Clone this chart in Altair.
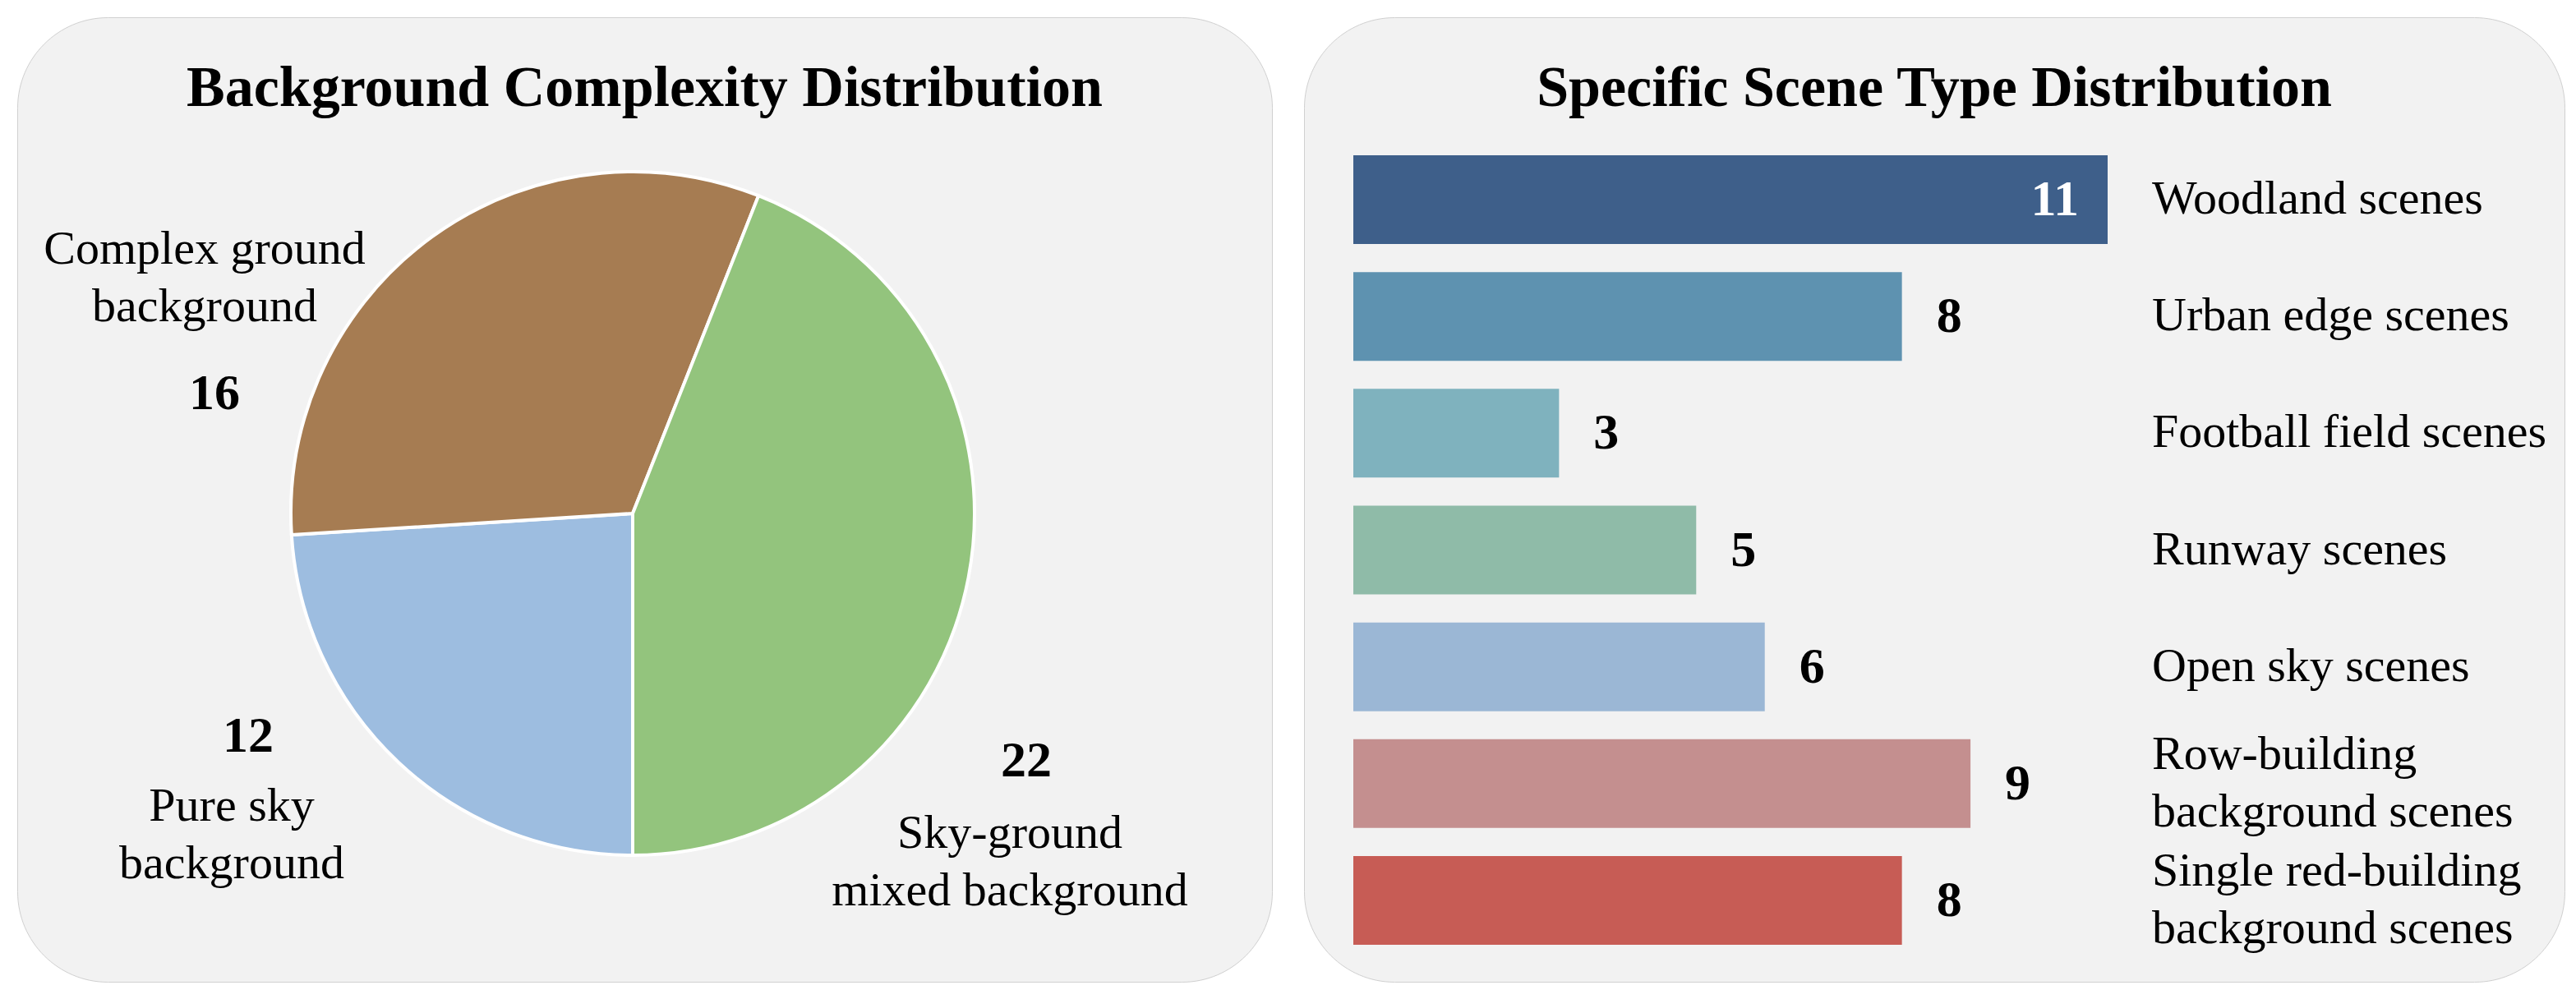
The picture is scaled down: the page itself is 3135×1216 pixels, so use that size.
import math

import altair as alt
import pandas as pd

FONT = "Liberation Serif"

# ---- data -------------------------------------------------------------
bg_categories = ["Pure sky\nbackground", "Complex ground\nbackground", "Sky-ground\nmixed background"]
bg_counts = [12, 16, 22]
bg_colors = ["#9dbde0", "#a67c52", "#93c47d"]

scene_types = [
    "Woodland scenes",
    "Urban edge scenes",
    "Football field scenes",
    "Runway scenes",
    "Open sky scenes",
    "Row-building\nbackground scenes",
    "Single red-building\nbackground scenes",
]
scene_counts = [11, 8, 3, 5, 6, 9, 8]
scene_colors = ["#3e5f8a", "#5e92b0", "#7fb2be", "#8fbba8", "#9bb7d5", "#c48f8f", "#c75c55"]

left_title = "Background Complexity Distribution"
right_title = "Specific Scene Type Distribution"

# ---- layout -----------------------------------------------------------
LEFT_W, RIGHT_W, PANEL_H = 1527, 1534, 1174
PIE_CX, PIE_CY, PIE_R = 749, 604, 416
TITLE_Y = 108
LABEL_SIZE, NUMBER_SIZE, TITLE_SIZE, LINE_H = 58, 62, 70, 70

# where each slice's count and name are written (x_count, y_count, x_name, y_name)
pie_label_layout = {
    "Pure sky\nbackground": (281, 894, 261, 978),
    "Complex ground\nbackground": (240, 477, 228, 300),
    "Sky-ground\nmixed background": (1228, 924, 1208, 1011),
}

# ---- left panel: pie --------------------------------------------------
bg_df = pd.DataFrame({"category": bg_categories, "count": bg_counts, "slice": list(range(len(bg_counts)))})
pie_base = alt.Chart(bg_df)

pie = pie_base.mark_arc(outerRadius=PIE_R, stroke="white", strokeWidth=4).encode(
    theta=alt.Theta("count:Q", stack=True, scale=alt.Scale(range=[math.pi, 3 * math.pi])),
    color=alt.Color("category:N", scale=alt.Scale(domain=bg_categories, range=bg_colors), legend=None),
    order=alt.Order("slice:Q"),
    x=alt.value(PIE_CX),
    y=alt.value(PIE_CY),
)

pie_layers = [pie]
for cat, (xc, yc, xn, yn) in pie_label_layout.items():
    sel = pie_base.transform_filter(alt.datum.category == cat)
    pie_layers.append(
        sel.mark_text(font=FONT, fontSize=NUMBER_SIZE, fontWeight="bold", align="center",
                      baseline="alphabetic", color="black").encode(
            text="count:Q", x=alt.value(xc), y=alt.value(yc))
    )
    pie_layers.append(
        sel.mark_text(font=FONT, fontSize=LABEL_SIZE, align="center", baseline="alphabetic",
                      lineBreak="\n", lineHeight=LINE_H, color="black").encode(
            text="category:N", x=alt.value(xn), y=alt.value(yn))
    )

left_title_layer = alt.Chart(pd.DataFrame({"t": [left_title]})).mark_text(
    font=FONT, fontSize=TITLE_SIZE, fontWeight="bold", align="center", baseline="alphabetic", color="black"
).encode(text="t:N", x=alt.value(LEFT_W / 2), y=alt.value(TITLE_Y))

left_panel = alt.layer(left_title_layer, *pie_layers).properties(width=LEFT_W, height=PANEL_H)

# ---- right panel: horizontal bars -------------------------------------
scene_df = pd.DataFrame({"scene": scene_types, "count": scene_counts})
bar_base = alt.Chart(scene_df)

y_enc = alt.Y("scene:N", sort=scene_types, axis=None,
              scale=alt.Scale(range=[168, 1129], paddingInner=0.24, paddingOuter=0))
x_enc = alt.X("count:Q", axis=None, scale=alt.Scale(domain=[0, 11], range=[60, 978]))

bars = bar_base.mark_bar().encode(
    x=x_enc,
    y=y_enc,
    fill=alt.Fill("scene:N", scale=alt.Scale(domain=scene_types, range=scene_colors), legend=None),
)

with_max = bar_base.transform_joinaggregate(max_count="max(count)")

outside_vals = with_max.transform_filter(alt.datum.count < alt.datum.max_count).mark_text(
    font=FONT, fontSize=NUMBER_SIZE, fontWeight="bold", align="left", baseline="middle", dx=42, color="black"
).encode(x=x_enc, y=y_enc, text="count:Q")

inside_vals = with_max.transform_filter(alt.datum.count == alt.datum.max_count).mark_text(
    font=FONT, fontSize=NUMBER_SIZE, fontWeight="bold", align="right", baseline="middle", dx=-35, color="white"
).encode(x=x_enc, y=y_enc, text="count:Q")

# one-line names sit on the bar centre; two-line names are centred as a block
name_style = dict(font=FONT, fontSize=LABEL_SIZE, align="left", baseline="middle", lineBreak="\n",
                  lineHeight=LINE_H, color="black")
single_names = bar_base.transform_filter("indexof(datum.scene, '\\n') < 0").mark_text(**name_style).encode(
    x=alt.value(1032), y=y_enc, text="scene:N")
double_names = bar_base.transform_filter("indexof(datum.scene, '\\n') >= 0").mark_text(
    dy=-LINE_H / 2, **name_style).encode(x=alt.value(1032), y=y_enc, text="scene:N")

right_title_layer = alt.Chart(pd.DataFrame({"t": [right_title]})).mark_text(
    font=FONT, fontSize=TITLE_SIZE, fontWeight="bold", align="center", baseline="alphabetic", color="black"
).encode(text="t:N", x=alt.value(RIGHT_W / 2), y=alt.value(TITLE_Y))

right_panel = alt.layer(
    right_title_layer, bars, outside_vals, inside_vals, single_names, double_names
).properties(width=RIGHT_W, height=PANEL_H)

# ---- assemble ---------------------------------------------------------
chart = (
    alt.hconcat(left_panel, right_panel, spacing=37)
    .resolve_scale(color="independent", fill="independent")
    .properties(padding={"left": 20, "top": 20, "right": 0, "bottom": 0}, background="white")
    .configure_view(fill="#f2f2f2", stroke="#d0d0d0", strokeWidth=1, cornerRadius=110)
)

chart.save("out.html", embed_options={"renderer": "svg", "actions": False})
